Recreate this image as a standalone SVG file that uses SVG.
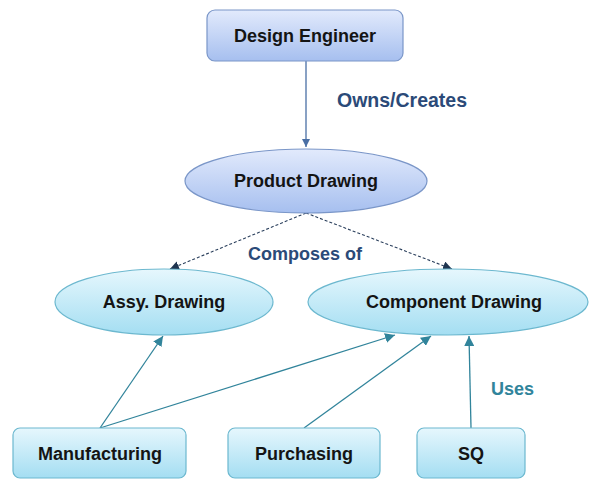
<svg xmlns="http://www.w3.org/2000/svg" width="589" height="480" viewBox="0 0 589 480">
<defs>
<linearGradient id="gBlue" x1="0" y1="0" x2="0" y2="1">
<stop offset="0" stop-color="#e2eafc"/>
<stop offset="1" stop-color="#a6bfef"/>
</linearGradient>
<linearGradient id="gCyan" x1="0" y1="0" x2="0" y2="1">
<stop offset="0" stop-color="#e6f7fd"/>
<stop offset="1" stop-color="#a4def2"/>
</linearGradient>
<marker id="aBlue" viewBox="0 0 10 10" refX="10" refY="5" markerWidth="8" markerHeight="8" orient="auto" markerUnits="userSpaceOnUse">
<path d="M0,0 L10,5 L0,10 z" fill="#4a6fa5"/>
</marker>
<marker id="aDark" viewBox="0 0 10 10" refX="10" refY="5" markerWidth="9" markerHeight="9" orient="auto" markerUnits="userSpaceOnUse">
<path d="M0,0 L10,5 L0,10 z" fill="#1f3550"/>
</marker>
<marker id="aTeal" viewBox="0 0 10 10" refX="10" refY="5" markerWidth="10" markerHeight="10" orient="auto" markerUnits="userSpaceOnUse">
<path d="M0,0 L10,5 L0,10 z" fill="#31849b"/>
</marker>
<style>
.nb{fill:url(#gBlue);stroke:#7a96c8;stroke-width:1.2}
.nc{fill:url(#gCyan);stroke:#6cb8cf;stroke-width:1.2}
.t{font-family:"Liberation Sans",Arial,sans-serif;font-weight:bold;font-size:18px;fill:#141414;text-anchor:middle}
.lb{font-family:"Liberation Sans",Arial,sans-serif;font-weight:bold;font-size:18px;fill:#2b4a78}
.lt{font-family:"Liberation Sans",Arial,sans-serif;font-weight:bold;font-size:18px;fill:#31849b}
.cb{stroke:#4a6fa5;stroke-width:1.3;fill:none}
.cd{stroke:#2a3f5c;stroke-width:1.1;stroke-dasharray:3,2;fill:none}
.ct{stroke:#31849b;stroke-width:1.3;fill:none}
</style>
</defs>
<g id="connectors">
<line class="cb" x1="306" y1="61" x2="306" y2="147" marker-end="url(#aBlue)"/>
<line class="cd" x1="306" y1="213" x2="170" y2="269" marker-end="url(#aDark)"/>
<line class="cd" x1="306" y1="213" x2="452" y2="269" marker-end="url(#aDark)"/>
<line class="ct" x1="100" y1="428" x2="163" y2="336" marker-end="url(#aTeal)"/>
<line class="ct" x1="100" y1="428" x2="395" y2="335" marker-end="url(#aTeal)"/>
<line class="ct" x1="304" y1="428" x2="431" y2="336" marker-end="url(#aTeal)"/>
<line class="ct" x1="471" y1="428" x2="469" y2="336" marker-end="url(#aTeal)"/>
<text class="lb" x="337" y="107" style="font-size:19.5px">Owns/Creates</text>
<text class="lb" x="248" y="260">Composes of</text>
<text class="lt" x="491" y="395">Uses</text>
</g>
<g id="design-engineer">
<rect class="nb" x="207" y="10" width="196" height="51" rx="8"/>
<text class="t" x="305" y="42">Design Engineer</text>
</g>
<g id="product-drawing">
<ellipse class="nb" cx="306" cy="181" rx="121" ry="32"/>
<text class="t" x="306" y="187">Product Drawing</text>
</g>
<g id="assy-drawing">
<ellipse class="nc" cx="164" cy="302" rx="109" ry="33"/>
<text class="t" x="164" y="308">Assy. Drawing</text>
</g>
<g id="component-drawing">
<ellipse class="nc" cx="448" cy="302" rx="140" ry="33"/>
<text class="t" x="454" y="308">Component Drawing</text>
</g>
<g id="manufacturing">
<rect class="nc" x="13" y="428" width="173" height="50" rx="7"/>
<text class="t" x="100" y="460">Manufacturing</text>
</g>
<g id="purchasing">
<rect class="nc" x="228" y="428" width="152" height="50" rx="7"/>
<text class="t" x="304" y="460">Purchasing</text>
</g>
<g id="sq">
<rect class="nc" x="417" y="428" width="108" height="50" rx="7"/>
<text class="t" x="471" y="460">SQ</text>
</g>
</svg>
